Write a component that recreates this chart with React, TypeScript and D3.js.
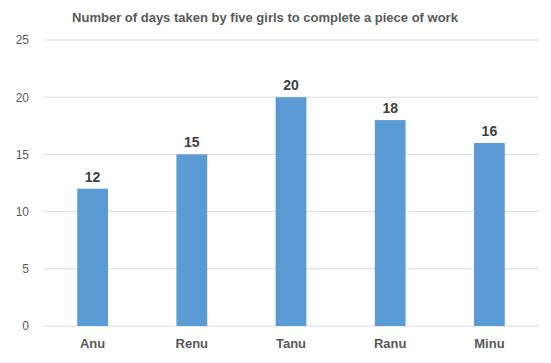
import * as d3 from "d3";
import { useEffect, useRef } from "react";

const girls = ["Anu", "Renu", "Tanu", "Ranu", "Minu"];
const days = [12, 15, 20, 18, 16];
const yTicks = [0, 5, 10, 15, 20, 25];
const title = "Number of days taken by five girls to complete a piece of work";

const App = () => {
  const ref = useRef<SVGSVGElement>(null);

  useEffect(() => {
    const width = 551,
      height = 363;
    const margin = { top: 40, right: 12, bottom: 37, left: 43 };
    const innerW = width - margin.left - margin.right;
    const innerH = height - margin.top - margin.bottom;
    const font = "'Liberation Sans', Arial, sans-serif";

    const root = d3.select(ref.current);
    root.selectAll("*").remove();

    root
      .append("text")
      .attr("x", 265)
      .attr("y", 22)
      .attr("text-anchor", "middle")
      .style("font-family", font)
      .style("font-size", "13px")
      .style("font-weight", "bold")
      .style("fill", "#595959")
      .text(title);

    const svg = root
      .append("g")
      .attr("transform", `translate(${margin.left},${margin.top})`);

    // X scale: each category takes one fifth, bars are narrow like Excel's gap width
    const x = d3
      .scaleBand()
      .domain(girls)
      .range([0, innerW])
      .paddingInner(0.69)
      .paddingOuter(0.345);

    const y = d3.scaleLinear().domain([0, 25]).range([innerH, 0]);

    // Gridlines
    svg
      .selectAll("line.grid")
      .data(yTicks)
      .join("line")
      .attr("class", "grid")
      .attr("x1", 0)
      .attr("x2", innerW)
      .attr("y1", (d) => y(d))
      .attr("y2", (d) => y(d))
      .attr("stroke", "#d9d9d9")
      .attr("stroke-width", 1);

    // Y axis labels
    const yAxis = svg
      .append("g")
      .call(d3.axisLeft(y).tickValues(yTicks).tickSize(0).tickPadding(14));
    yAxis.select(".domain").remove();
    yAxis
      .selectAll("text")
      .style("font-family", font)
      .style("font-size", "12px")
      .style("fill", "#595959");

    // Bars
    svg
      .selectAll("rect.bar")
      .data(days)
      .join("rect")
      .attr("class", "bar")
      .attr("x", (_d, i) => x(girls[i])!)
      .attr("y", (d) => y(d))
      .attr("width", x.bandwidth())
      .attr("height", (d) => innerH - y(d))
      .attr("fill", "#5b9bd5");

    // Value labels
    svg
      .selectAll("text.val")
      .data(days)
      .join("text")
      .attr("class", "val")
      .attr("x", (_d, i) => x(girls[i])! + x.bandwidth() / 2)
      .attr("y", (d) => y(d) - 7)
      .attr("text-anchor", "middle")
      .style("font-family", font)
      .style("font-size", "14px")
      .style("font-weight", "bold")
      .style("fill", "#404040")
      .text((d) => d);

    // X axis labels
    const xAxis = svg
      .append("g")
      .attr("transform", `translate(0,${innerH})`)
      .call(d3.axisBottom(x).tickSize(0).tickPadding(13));
    xAxis.select(".domain").remove();
    xAxis
      .selectAll("text")
      .style("font-family", font)
      .style("font-size", "13px")
      .style("font-weight", "bold")
      .style("fill", "#595959");
  }, []);

  return (
    <svg
      ref={ref}
      width={551}
      height={363}
      style={{ position: "absolute", left: 0, top: 0, background: "#fff" }}
    />
  );
};

export default App;
